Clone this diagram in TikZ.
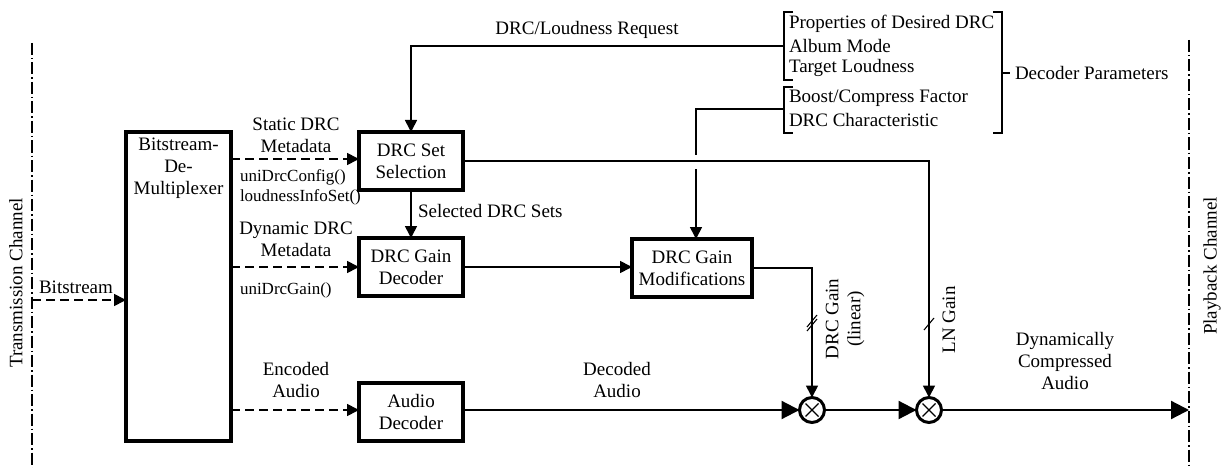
\documentclass[tikz,border=0pt]{standalone}
\usepackage{fontspec}
\setmainfont{Liberation Serif}
\usetikzlibrary{arrows.meta,calc}
\begin{document}
\begin{tikzpicture}[x=1pt,y=-1pt]
\tikzset{
  every node/.style={font=\fontsize{19}{22}\selectfont, inner sep=0pt, outer sep=0pt},
  block/.style={draw, line width=3.2pt, align=center, minimum height=58pt},
  conn/.style={line width=1.7pt},
  tip/.style={-{Triangle[length=12pt,width=12pt]}},
  bigtip/.style={-{Triangle[length=18pt,width=18pt]}},
  dconn/.style={conn, dash pattern=on 9pt off 5pt},
  chan/.style={line width=1.7pt, dash pattern=on 12pt off 3pt on 1.5pt off 3pt},
  mult/.style={circle, draw, line width=3pt, minimum size=25pt},
  lbl/.style={align=center},
  code/.style={font=\fontsize{17}{19.5}\selectfont, align=left},
  brk/.style={line width=1.6pt},
}
\useasboundingbox (0,0) rectangle (1223,468);

% channel boundaries
\coordinate (tct) at (32,43);
\coordinate (tcb) at (32,468);
\coordinate (pct) at (1189,40);
\coordinate (pcb) at (1189,468);
\draw[chan] (tct) -- (tcb);
\draw[chan] (pct) -- (pcb);
\node[rotate=90] (tclabel) at (16,283) {Transmission Channel};
\node[rotate=90] (pclabel) at (1212,266) {Playback Channel};

% processing blocks
\node[block, minimum width=105pt, minimum height=309pt,
      label={[anchor=north, yshift=-6pt, align=center]north:Bitstream-\\De-\\Multiplexer}]
      (demux) at (178.5,286.5) {};
\node[block, minimum width=104pt] (sel) at (411,161) {DRC Set\\Selection};
\node[block, minimum width=104pt] (dec) at (411,267) {DRC Gain\\Decoder};
\node[block, minimum width=104pt] (aud) at (411,412) {Audio\\Decoder};
\node[block, minimum width=120pt] (mods) at (692,268) {DRC Gain\\Modifications};

\node[mult] (m1) at (812,410) {};
\node[mult] (m2) at (929,410) {};
\foreach \m in {m1,m2}{
  \draw[line width=1.2pt] ([shift={(-6.5,-6.5)}]\m.center) -- ([shift={(6.5,6.5)}]\m.center);
  \draw[line width=1.2pt] ([shift={(-6.5,6.5)}]\m.center) -- ([shift={(6.5,-6.5)}]\m.center);
}

% decoder parameters
\node[anchor=west] (p1) at (789,24) {Properties of Desired DRC};
\node[anchor=west] (p2) at (789,46) {Album Mode};
\node[anchor=west] (p3) at (789,68) {Target Loudness};
\node[anchor=west] (p4) at (789,98) {Boost/Compress Factor};
\node[anchor=west] (p5) at (789,120) {DRC Characteristic};
\draw[brk] (793,12) -- (784,12) -- (784,80) -- (793,80);
\draw[brk] (793,87) -- (784,87) -- (784,133) -- (793,133);
\draw[brk] (993,12) -- (1002,12) -- (1002,133) -- (993,133);
\draw[brk] (1002,73) -- (1010,73);
\node[anchor=west] (dp) at (1015,73) {Decoder Parameters};
\coordinate (b1) at (784,46);
\coordinate (b2) at (784,109);

% input
\coordinate (bin) at (32,300);
\draw[dconn, tip] (bin) -- (bin -| demux.west);
\node (bslabel) at (76,287) {Bitstream};

% demultiplexer outputs
\draw[dconn, tip] ([yshift=2pt]sel.west -| demux.east) -- ([yshift=2pt]sel.west);
\node[lbl] (sdm) at (296,135) {Static DRC\\Metadata};
\node[code, anchor=north west] (cfg) at (240,170) {uniDrcConfig()\\loudnessInfoSet()};

\draw[dconn, tip] (dec.west -| demux.east) -- (dec.west);
\node[lbl] (ddm) at (296,239) {Dynamic DRC\\Metadata};
\node[code, anchor=west] (gain) at (240,290) {uniDrcGain()};

\draw[dconn, tip] (m1 -| demux.east) -- (m1 -| aud.west);
\node[lbl] (enc) at (296,380) {Encoded\\Audio};

% control paths
\draw[conn, tip] (b1) -| (sel.north);
\node (req) at (587,30) {DRC/Loudness Request};

\draw[conn, tip] (b2) -| ([xshift=4pt]mods.north);
\fill[white] (691,155) rectangle (701,169);

\draw[conn, tip] (sel.south) -- (dec.north);
\node[anchor=west] (sds) at (418,211) {Selected DRC Sets};

\draw[conn, tip] (dec.east) -- (dec.east -| mods.west);

\draw[conn, tip] (sel.east) -| (m2.north);
\draw[conn, tip] (mods.east) -| (m1.north);

% gain line markers
\draw[line width=1.1pt] (807,327) -- (817,315);
\draw[line width=1.1pt] (807,331) -- (817,319);
\draw[line width=1.1pt] (924,330) -- (934,318);
\node[rotate=90, lbl] (dgl) at (845,319) {DRC Gain\\(linear)};
\node[rotate=90] (lng) at (949,320) {LN Gain};

% audio path
\draw[line width=2.2pt, bigtip] (aud.east |- m1) -- (m1.west);
\node[lbl] (deca) at (617,380) {Decoded\\Audio};
\draw[line width=2.2pt, bigtip] (m1.east) -- (m2.west);
\coordinate (pout) at (1189,410);
\draw[line width=2.2pt, bigtip] (m2.east) -- (pout);
\node[lbl] (dca) at (1065,361) {Dynamically\\Compressed\\Audio};
\end{tikzpicture}
\end{document}
